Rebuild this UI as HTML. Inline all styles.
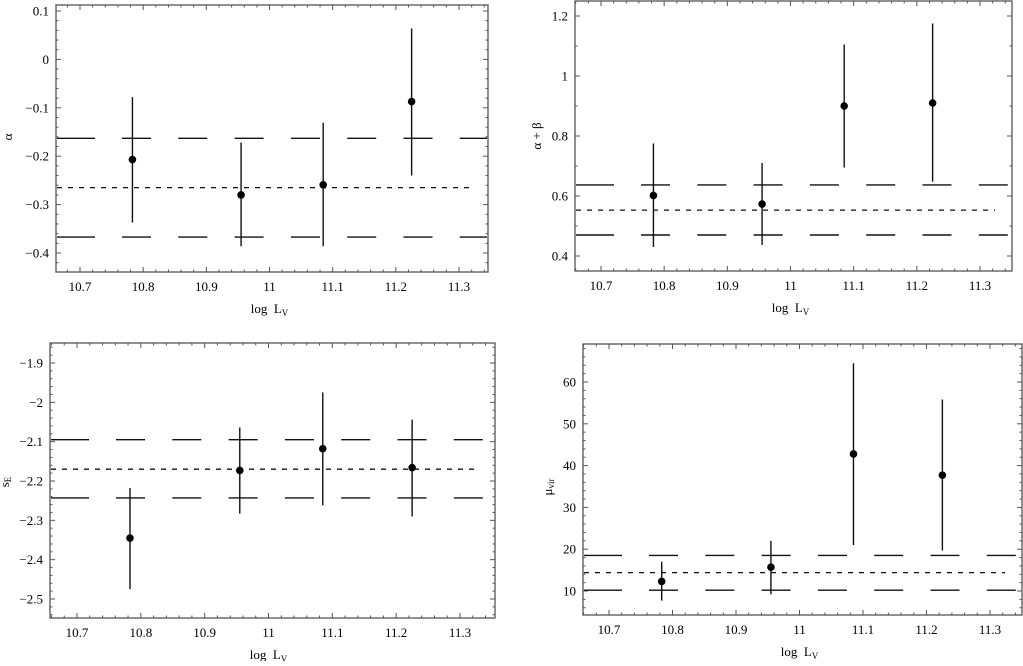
<!DOCTYPE html>
<html><head><meta charset="utf-8"><style>
body{margin:0;background:#fff}
svg text{font-family:"Liberation Serif",serif;fill:#000}
</style></head><body>
<svg id="c" width="1023" height="661"></svg>
<script>
const xCats=[10.783,10.955,11.085,11.225];
const xTicks=[10.7,10.8,10.9,11,11.1,11.2,11.3];
const alphaVal=[-0.207,-0.280,-0.259,-0.087];
const alphaLo=[-0.337,-0.386,-0.386,-0.240];
const alphaHi=[-0.078,-0.172,-0.131,0.064];
const alphaLines=[-0.163,-0.265,-0.367];
const alphaTicks=[0.1,0,-0.1,-0.2,-0.3,-0.4];
const abVal=[0.602,0.573,0.90,0.91];
const abLo=[0.43,0.437,0.695,0.648];
const abHi=[0.775,0.71,1.105,1.175];
const abLines=[0.637,0.553,0.470];
const abTicks=[1.2,1,0.8,0.6,0.4];
const seVal=[-2.345,-2.173,-2.118,-2.166];
const seLo=[-2.475,-2.283,-2.262,-2.29];
const seHi=[-2.218,-2.064,-1.975,-2.044];
const seLines=[-2.095,-2.17,-2.243];
const seTicks=[-1.9,-2,-2.1,-2.2,-2.3,-2.4,-2.5];
const muVal=[12.3,15.7,42.8,37.7];
const muLo=[7.7,9.2,21,19.7];
const muHi=[17,22,64.5,55.8];
const muLines=[18.5,14.4,10.2];
const muTicks=[60,50,40,30,20,10];

const svg=document.getElementById('c');
const NS='http://www.w3.org/2000/svg';
function mk(t,a,p){const e=document.createElementNS(NS,t);for(const k in a)e.setAttribute(k,a[k]);(p||svg).appendChild(e);return e;}
function fmt(v){let s=(Math.round(v*1000)/1000).toString();return s.replace('-','\u2212');}

function panel(o){
  const g=mk('g',{});
  
  
  const sx=(o.px1-o.px0)/0.6;
  const X=v=>o.px0+(v-10.7)*sx;
  const sy=(o.py1-o.py0)/(o.t1-o.t0);
  const Y=v=>o.py0+(v-o.t0)*sy;
  const L=o.L,R=o.R,T=o.T,B=o.B;
  const fr=mk('rect',{x:L,y:T,width:R-L,height:B-T,fill:'none',stroke:'#555','stroke-width':1.3},g);
  
  // x ticks
  for(let v=10.62;v<=11.4;v+=0.02){const p=X(v);if(p<L||p>R)continue;
    const maj=xTicks.some(t=>Math.abs(t-v)<1e-6);const len=maj?5:2.5;
    mk('line',{x1:p,y1:B,x2:p,y2:B-len,stroke:'#555'},g);mk('line',{x1:p,y1:T,x2:p,y2:T+len,stroke:'#555'},g);}
  xTicks.forEach(t=>{const tx=mk('text',{x:X(t),y:B+19,'text-anchor':'middle','font-size':13},g);tx.textContent=fmt(t);
    });
  // y ticks
  const step=Math.abs(o.ticks[0]-o.ticks[1])/o.minor;
  const lo=Math.min(...o.ticks)-5*step*o.minor;
  for(let i=0;i<200;i++){const v=lo+i*step;const p=Y(v);if(p<T||p>B)continue;
    const maj=o.ticks.some(t=>Math.abs(t-v)<step/10);const len=maj?5:2.5;
    mk('line',{x1:L,y1:p,x2:L+len,y2:p,stroke:'#555'},g);mk('line',{x1:R,y1:p,x2:R-len,y2:p,stroke:'#555'},g);}
  o.ticks.forEach(t=>{const tx=mk('text',{x:L-7,y:Y(t)+4.5,'text-anchor':'end','font-size':13},g);tx.textContent=fmt(t);
    });
  // long-dash lines
  [o.lines[0],o.lines[2]].forEach((v,k)=>{const y=Y(v);
    const gl=mk('g',{},g);
    mk('line',{x1:L+1,y1:y,x2:L+39,y2:y,stroke:'#111','stroke-width':1.4},gl);
    for(let s=L+66;s<R;s+=56.3){mk('line',{x1:s,y1:y,x2:Math.min(s+29,R-1),y2:y,stroke:'#111','stroke-width':1.4},gl);}
  });
  const ml=mk('line',{x1:L+1,y1:Y(o.lines[1]),x2:R-17,y2:Y(o.lines[1]),stroke:'#111','stroke-width':1.3,'stroke-dasharray':'5 6'},g);
  
  xCats.forEach((c,i)=>{const x=X(c);
    const eb=mk('line',{x1:x,y1:Y(o.lo[i]),x2:x,y2:Y(o.hi[i]),stroke:'#111','stroke-width':1.4},g);
    
    const pt=mk('circle',{cx:x,cy:Y(o.val[i]),r:3.8,fill:'#000'},g);
    });
  const xl=mk('text',{x:(X(10.7)+X(11.3))/2,y:B+41,'text-anchor':'middle','font-size':13},g);
  xl.innerHTML='log&#160;&#160;L<tspan font-size="9" dy="3">V</tspan>';
  
  const yl=mk('text',{x:0,y:0,'text-anchor':'middle','font-size':13,transform:`translate(${o.ylx},${o.yly}) rotate(-90)`},g);
  yl.innerHTML=o.ylab;
  
}
panel({name:'alpha-panel',L:56,R:488,T:5,B:272,px0:80,px1:459,t0:0.1,t1:-0.4,py0:11,py1:253,ticks:alphaTicks,minor:5,val:alphaVal,lo:alphaLo,hi:alphaHi,lines:alphaLines,ylab:'α',ylx:12,yly:137});
panel({name:'alpha-beta-panel',L:575,R:1012,T:1,B:271,px0:601,px1:980,t0:1.2,t1:0.4,py0:16,py1:256,ticks:abTicks,minor:2,val:abVal,lo:abLo,hi:abHi,lines:abLines,ylab:'α + β',ylx:541,yly:136});
panel({name:'se-panel',L:50,R:495,T:343,B:618,px0:77,px1:460,t0:-1.9,t1:-2.5,py0:363,py1:599,ticks:seTicks,minor:5,val:seVal,lo:seLo,hi:seHi,lines:seLines,ylab:'s<tspan font-size="9" dy="2">E</tspan>',ylx:9,yly:482});
panel({name:'mu-vir-panel',L:583,R:1022,T:344,B:615,px0:609,px1:990,t0:60,t1:10,py0:382,py1:591,ticks:muTicks,minor:5,val:muVal,lo:muLo,hi:muHi,lines:muLines,ylab:'μ<tspan font-size="9" dy="2">vir</tspan>',ylx:552,yly:487});
</script>
</body></html>
